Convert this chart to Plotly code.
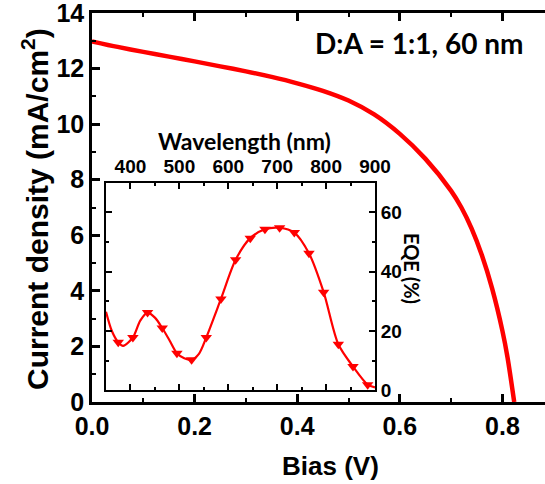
import plotly.graph_objects as go

# Main J-V curve
bias_v = [0, 0.05, 0.1, 0.15, 0.2, 0.25, 0.3, 0.35, 0.4, 0.45, 0.5, 0.55, 0.6, 0.65,
          0.7, 0.72, 0.74, 0.76, 0.78, 0.8, 0.81, 0.823]
current_density = [12.98, 12.78, 12.6, 12.43, 12.26, 12.08, 11.9, 11.7, 11.47, 11.2, 10.85,
                   10.35, 9.65, 8.75, 7.6, 7.0, 6.24, 5.28, 4.08, 2.56, 1.6, 0.0]

# Inset EQE spectrum: line and markers
wl_line = [350, 362, 375, 385, 405, 420, 435, 450, 465, 480, 495, 510, 525, 540, 555,
           585, 615, 645, 675, 705, 735, 765, 795, 825, 855, 885, 900]
eqe_line = [26.5, 20.0, 16.2, 15.0, 17.8, 23.5, 26.2, 24.5, 21.0, 16.8, 12.5, 10.8, 10.3,
            12.3, 17.8, 30.8, 44.0, 51.3, 54.3, 54.8, 53.2, 46.2, 33.1, 15.5, 8.0, 1.9, 1.0]
wl_markers = [375, 405, 435, 465, 495, 525, 555, 585, 615, 645, 675, 705, 735, 765,
              795, 825, 855, 885]
eqe_markers = [16.2, 17.8, 26.2, 21.0, 12.5, 10.3, 17.8, 30.8, 44.0, 51.3, 54.3, 54.8,
               53.2, 46.2, 33.1, 15.5, 8.0, 1.9]

main_xticks = [0.0, 0.2, 0.4, 0.6, 0.8]
main_xticklabels = ["0.0", "0.2", "0.4", "0.6", "0.8"]
main_yticks = [0, 2, 4, 6, 8, 10, 12, 14]
inset_xticks = [400, 500, 600, 700, 800, 900]
inset_yticks = [0, 20, 40, 60]

RED = "#ff0000"
AX_FONT = "Liberation Sans"
CAL_FONT = "Lato"

fig = go.Figure()
fig.add_trace(go.Scatter(x=bias_v, y=current_density, mode="lines",
                         line=dict(color=RED, width=4.5, shape="spline", smoothing=0.8),
                         xaxis="x", yaxis="y", showlegend=False))
fig.add_trace(go.Scatter(x=wl_line, y=eqe_line, mode="lines",
                         line=dict(color=RED, width=2.2, shape="spline", smoothing=0.8),
                         xaxis="x2", yaxis="y2", showlegend=False))
fig.add_trace(go.Scatter(x=wl_markers, y=eqe_markers, mode="markers",
                         marker=dict(symbol="triangle-down", size=10, color=RED),
                         xaxis="x2", yaxis="y2", showlegend=False))

W, H = 545, 484
L, R, T, B = 92, 0, 13, 82
pw, ph = W - L - R, H - T - B

def px_x(p):
    return (p - L) / pw

def px_y(p):
    return (H - B - p) / ph

common = dict(showgrid=False, zeroline=False, ticklabeloverflow="allow", tickcolor="black",
              linecolor="black", showline=True, automargin=False)

fig.update_layout(
    width=W, height=H, autosize=False,
    margin=dict(l=L, r=R, t=T, b=B, pad=0, autoexpand=False),
    plot_bgcolor="white", paper_bgcolor="white",
    font=dict(family=AX_FONT, color="black"),
    xaxis=dict(range=[0, 0.883], tickvals=main_xticks, ticktext=main_xticklabels,
               ticks="inside", ticklen=8, tickwidth=2.5, linewidth=2.5, mirror="allticks",
               tickfont=dict(size=25, family=AX_FONT, weight="bold"),
               minor=dict(dtick=0.1, ticks="inside", ticklen=4, tickwidth=2, tickcolor="black"),
               anchor="y", domain=[0, 1], **common),
    yaxis=dict(range=[0, 14], tickvals=main_yticks,
               ticks="inside", ticklen=8, tickwidth=2.5, linewidth=2.5, mirror=False,
               tickfont=dict(size=25, family=AX_FONT, weight="bold"),
               minor=dict(dtick=1, ticks="inside", ticklen=4, tickwidth=2, tickcolor="black"),
               anchor="x", domain=[0, 1], **common),
    xaxis2=dict(range=[350, 900], tickvals=inset_xticks, side="top",
                ticks="inside", ticklen=6, tickwidth=2, linewidth=2, mirror="allticks",
                tickfont=dict(size=19, family=AX_FONT, weight="bold"),
                minor=dict(dtick=50, ticks="inside", ticklen=3, tickwidth=1.5, tickcolor="black"),
                anchor="y2", domain=[px_x(106), px_x(375)], **common),
    yaxis2=dict(range=[0, 70], tickvals=inset_yticks, side="right",
                ticks="inside", ticklen=6, tickwidth=2, linewidth=2, mirror="allticks",
                tickfont=dict(size=19, family=AX_FONT, weight="bold"),
                minor=dict(dtick=10, ticks="inside", ticklen=3, tickwidth=1.5, tickcolor="black"),
                anchor="x2", domain=[px_y(390.3), px_y(182.7)], **common),
)

annotations = [
    dict(text="Bias (V)", x=px_x(330), y=px_y(466), xref="paper", yref="paper",
         showarrow=False, xanchor="center", yanchor="middle",
         font=dict(size=26, family=AX_FONT, weight="bold")),
    dict(text="Current density (mA/cm<sup>2</sup>)", x=px_x(35), y=px_y(209),
         xref="paper", yref="paper", showarrow=False, textangle=-90,
         xanchor="center", yanchor="middle",
         font=dict(size=30, family=AX_FONT, weight="bold")),
    dict(text="D:A = 1:1, 60 nm", x=px_x(419), y=px_y(43), xref="paper", yref="paper",
         showarrow=False, xanchor="center", yanchor="middle",
         font=dict(size=28, family=CAL_FONT, weight="bold")),
    dict(text="Wavelength (nm)", x=px_x(244), y=px_y(141), xref="paper", yref="paper",
         showarrow=False, xanchor="center", yanchor="middle",
         font=dict(size=23, family=CAL_FONT, weight="bold")),
    dict(text="EQE (%)", x=px_x(412), y=px_y(268), xref="paper", yref="paper",
         showarrow=False, textangle=90, xanchor="center", yanchor="middle",
         font=dict(size=20, family=CAL_FONT, weight="bold")),
]
fig.update_layout(annotations=annotations)

fig.write_html("out.html")
